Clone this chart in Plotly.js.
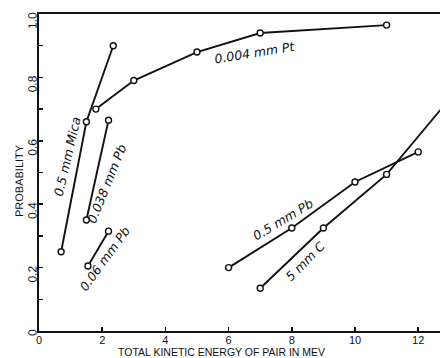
<!DOCTYPE html>
<html>
<head>
<meta charset="utf-8">
<script src="https://cdn.plot.ly/plotly-3.0.1.min.js"></script>
<style>html,body{margin:0;padding:0;background:#fff;}#chart{width:440px;height:358px;}</style>
</head>
<body>
<div id="chart"></div>
<script>
// Series: total kinetic energy of pair (MeV) vs probability
const ptX = [1.8, 3.0, 5.0, 7.0, 11.0];
const ptY = [0.70, 0.79, 0.88, 0.94, 0.965];
const micaX = [0.7, 1.5, 2.35];
const micaY = [0.25, 0.66, 0.90];
const pb038X = [1.5, 2.2];
const pb038Y = [0.35, 0.665];
const pb06X = [1.55, 2.2];
const pb06Y = [0.205, 0.315];
const pb5X = [6.0, 8.0, 10.0, 12.0];
const pb5Y = [0.20, 0.325, 0.47, 0.565];
const cX = [7.0, 9.0, 11.0, 13.0];
const cY = [0.135, 0.325, 0.494, 0.733];

const xTicks = [0, 2, 4, 6, 8, 10, 12];
const xTickText = ['0', '2', '4', '6', '8', '10', '12'];
const yTicks = [0, 0.2, 0.4, 0.6, 0.8, 1.0];
const yTickText = ['0', '0.2', '0.4', '0.6', '0.8', '1.0'];

const seriesNames = ['0.004 mm Pt', '0.5 mm Mica', '0.038 mm Pb', '0.06 mm Pb', '0.5 mm Pb', '5 mm C'];
const seriesX = [ptX, micaX, pb038X, pb06X, pb5X, cX];
const seriesY = [ptY, micaY, pb038Y, pb06Y, pb5Y, cY];

const traces = seriesX.map((xs, i) => ({
  x: xs, y: seriesY[i], name: seriesNames[i],
  type: 'scatter', mode: 'lines+markers',
  line: {color: '#111', width: 1.9},
  marker: {symbol: 'circle', size: 6, color: '#fff', line: {color: '#111', width: 1.4}},
  cliponaxis: true
}));

// label positions/angles
const labelX = [6.85, 0.9, 2.15, 2.09, 7.72, 8.42];
const labelY = [0.88, 0.55, 0.465, 0.228, 0.353, 0.218];
const labelAngle = [-9, -77, -68, -54, -31, -45];

const labelFont = {family: 'DejaVu Sans', size: 12.5, color: '#111', style: 'italic'};
const annotations = seriesNames.map((t, i) => ({
  x: labelX[i], y: labelY[i], xref: 'x', yref: 'y',
  text: t, showarrow: false, textangle: labelAngle[i], font: labelFont
}));
annotations.push({
  xref: 'paper', yref: 'paper', x: (221 - 39) / 401, y: 0, yshift: -21,
  xanchor: 'center', yanchor: 'middle', showarrow: false,
  text: 'TOTAL KINETIC ENERGY OF PAIR IN MEV',
  font: {family: 'Liberation Sans', size: 10.5, color: '#111'}
});
annotations.push({
  xref: 'paper', yref: 'paper', x: 0, xshift: -20, y: (331 - 181) / 317,
  xanchor: 'center', yanchor: 'middle', showarrow: false, textangle: -89.9,
  text: 'PROBABILITY',
  font: {family: 'Liberation Sans', size: 11, color: '#111'}
});

const layout = {
  width: 440, height: 358,
  margin: {l: 39, r: 0, t: 14, b: 27},
  paper_bgcolor: '#fff', plot_bgcolor: '#fff',
  showlegend: false,
  xaxis: {
    range: [0, 12.69], tickvals: xTicks, ticktext: xTickText, tickangle: 0,
    showgrid: false, zeroline: false, showline: true, mirror: true,
    linecolor: '#111', linewidth: 2,
    ticks: 'inside', ticklen: 4, tickwidth: 1.5, tickcolor: '#111',
    ticklabelstandoff: -2,
    tickfont: {family: 'Liberation Sans', size: 11, color: '#111'},
    title: {text: ''}
  },
  yaxis: {
    range: [0, 1], tickvals: yTicks, ticktext: yTickText, tickangle: -89.9,
    showgrid: false, zeroline: false, showline: true,
    linecolor: '#111', linewidth: 2,
    ticks: 'inside', ticklen: 4, tickwidth: 1.5, tickcolor: '#111',
    ticklabelstandoff: 4,
    tickfont: {family: 'Liberation Sans', size: 12, color: '#111'},
    minor: {dtick: 0.1, ticks: 'inside', ticklen: 4, tickwidth: 1.5, tickcolor: '#111', showgrid: false},
    title: {text: ''}
  },
  annotations: annotations
};

Plotly.newPlot('chart', traces, layout, {displayModeBar: false, staticPlot: true});
</script>
</body>
</html>
